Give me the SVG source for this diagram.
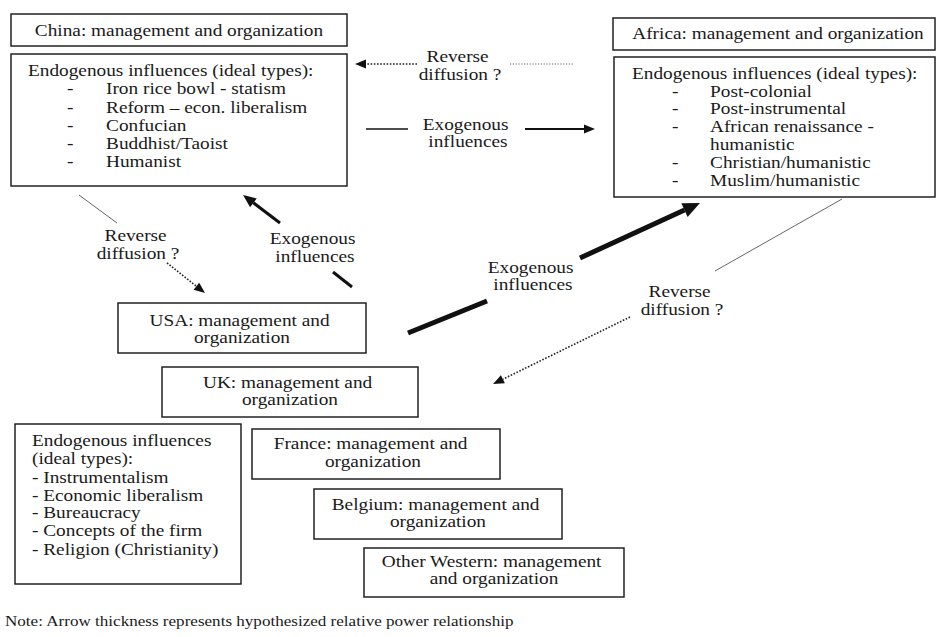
<svg xmlns="http://www.w3.org/2000/svg" width="937" height="637" viewBox="0 0 937 637">
  <style>
    .box { fill: #ffffff; stroke: #222222; stroke-width: 1.5; }
    .t { font-family: "Liberation Serif", "Times New Roman", serif; font-size: 16.5px; fill: #1a1a1a; }
    .c { text-anchor: middle; }
    .note { font-family: "Liberation Serif", "Times New Roman", serif; font-size: 14.6px; fill: #1a1a1a; }
    .thin { stroke: #555555; stroke-width: 0.9; fill: none; }
    .dot { stroke: #222222; stroke-width: 1.6; stroke-dasharray: 1.6 1.6; fill: none; }
    .dot-light { stroke: #666666; stroke-width: 1; stroke-dasharray: 1.2 1.6; fill: none; }
    .solid { stroke: #111111; fill: none; stroke-linecap: butt; }
  </style>
  <defs>
    <marker id="ah-s" markerUnits="userSpaceOnUse" viewBox="0 -5 11 10" markerWidth="11" markerHeight="10" refX="0" refY="0" orient="auto" overflow="visible">
      <path d="M0,-4.5 L11,0 L0,4.5 Z" fill="#111111"/>
    </marker>
    <marker id="ah-m" markerUnits="userSpaceOnUse" viewBox="0 -6 13 12" markerWidth="13" markerHeight="12" refX="0" refY="0" orient="auto" overflow="visible">
      <path d="M0,-5.5 L13,0 L0,5.5 Z" fill="#111111"/>
    </marker>
    <marker id="ah-l" markerUnits="userSpaceOnUse" viewBox="0 -8 17 16" markerWidth="17" markerHeight="16" refX="0" refY="0" orient="auto" overflow="visible">
      <path d="M0,-7.5 L17,0 L0,7.5 Z" fill="#111111"/>
    </marker>
  </defs>

  <rect width="937" height="637" fill="#ffffff"/>

  <!-- China -->
  <g id="china-title">
    <rect class="box" x="11" y="14" width="336" height="32"/>
    <text class="t c" transform="translate(179 36) scale(1.17 1)">China: management and organization</text>
  </g>
  <g id="china-endogenous">
    <rect class="box" x="11" y="54" width="336" height="132"/>
    <text class="t" transform="translate(28 76) scale(1.17 1)">
      <tspan x="0" y="0">Endogenous influences (ideal types):</tspan>
      <tspan x="33.3" y="18.3">-</tspan><tspan x="66.7" y="18.3">Iron rice bowl - statism</tspan>
      <tspan x="33.3" y="36.6">-</tspan><tspan x="66.7" y="36.6">Reform – econ. liberalism</tspan>
      <tspan x="33.3" y="54.9">-</tspan><tspan x="66.7" y="54.9">Confucian</tspan>
      <tspan x="33.3" y="73.2">-</tspan><tspan x="66.7" y="73.2">Buddhist/Taoist</tspan>
      <tspan x="33.3" y="91.5">-</tspan><tspan x="66.7" y="91.5">Humanist</tspan>
    </text>
  </g>

  <!-- Africa -->
  <g id="africa-title">
    <rect class="box" x="613" y="18" width="322" height="32"/>
    <text class="t c" transform="translate(778 39) scale(1.17 1)">Africa: management and organization</text>
  </g>
  <g id="africa-endogenous">
    <rect class="box" x="614" y="57" width="321" height="140"/>
    <text class="t" transform="translate(632 79) scale(1.17 1)">
      <tspan x="0" y="0">Endogenous influences (ideal types):</tspan>
      <tspan x="34.2" y="18">-</tspan><tspan x="66.7" y="18">Post-colonial</tspan>
      <tspan x="34.2" y="35.5">-</tspan><tspan x="66.7" y="35.5">Post-instrumental</tspan>
      <tspan x="34.2" y="53">-</tspan><tspan x="66.7" y="53">African renaissance -</tspan>
      <tspan x="66.7" y="71">humanistic</tspan>
      <tspan x="34.2" y="89">-</tspan><tspan x="66.7" y="89">Christian/humanistic</tspan>
      <tspan x="34.2" y="107">-</tspan><tspan x="66.7" y="107">Muslim/humanistic</tspan>
    </text>
  </g>

  <!-- Western countries -->
  <g id="usa">
    <rect class="box" x="118" y="303" width="248" height="50"/>
    <text class="t c" transform="translate(242 326) scale(1.17 1)">
      <tspan x="0" y="0">USA: management and</tspan>
      <tspan x="0" y="17">organization</tspan>
    </text>
  </g>
  <g id="uk">
    <rect class="box" x="162" y="367" width="256" height="50"/>
    <text class="t c" transform="translate(290 388) scale(1.17 1)">
      <tspan x="0" y="0">UK: management and</tspan>
      <tspan x="0" y="17">organization</tspan>
    </text>
  </g>
  <g id="western-endogenous">
    <rect class="box" x="15" y="424" width="226" height="160"/>
    <text class="t" transform="translate(32 446) scale(1.17 1)">
      <tspan x="0" y="0">Endogenous influences</tspan>
      <tspan x="0" y="18.5">(ideal types):</tspan>
      <tspan x="0" y="37">- Instrumentalism</tspan>
      <tspan x="0" y="55">- Economic liberalism</tspan>
      <tspan x="0" y="72.5">- Bureaucracy</tspan>
      <tspan x="0" y="90.5">- Concepts of the firm</tspan>
      <tspan x="0" y="109">- Religion (Christianity)</tspan>
    </text>
  </g>
  <g id="france">
    <rect class="box" x="252" y="429" width="248" height="50"/>
    <text class="t c" transform="translate(373 449) scale(1.17 1)">
      <tspan x="0" y="0">France: management and</tspan>
      <tspan x="0" y="18">organization</tspan>
    </text>
  </g>
  <g id="belgium">
    <rect class="box" x="314" y="489" width="248" height="50"/>
    <text class="t c" transform="translate(438 510) scale(1.17 1)">
      <tspan x="0" y="0">Belgium: management and</tspan>
      <tspan x="0" y="17">organization</tspan>
    </text>
  </g>
  <g id="other-western">
    <rect class="box" x="364" y="548" width="260" height="49"/>
    <text class="t c" transform="translate(494 567) scale(1.17 1)">
      <tspan x="0" y="0">Other Western: management</tspan>
      <tspan x="0" y="17">and organization</tspan>
    </text>
  </g>

  <!-- Connectors and their labels -->
  <g id="connectors">
    <!-- Africa -> China reverse diffusion -->
    <line class="dot" x1="417" y1="64" x2="366" y2="64" marker-end="url(#ah-s)"/>
    <line class="dot-light" x1="510" y1="64" x2="573" y2="64"/>
    <text class="t c" transform="translate(460 62) scale(1.17 1)">
      <tspan x="0" y="0">Reverse</tspan>
      <tspan x="0" y="18">diffusion ?</tspan>
    </text>

    <!-- China -> Africa exogenous influences -->
    <line class="solid" stroke-width="1.6" x1="366" y1="129" x2="408" y2="129"/>
    <line class="solid" stroke-width="2" x1="525" y1="129" x2="584" y2="129" marker-end="url(#ah-s)"/>
    <text class="t c" transform="translate(468 130) scale(1.17 1)">
      <tspan x="0" y="0">Exogenous</tspan>
      <tspan x="0" y="17">influences</tspan>
    </text>

    <!-- China -> USA reverse diffusion -->
    <line class="thin" x1="79" y1="195" x2="117" y2="223"/>
    <line class="dot" x1="167" y1="263" x2="196.4" y2="286.2" marker-end="url(#ah-s)"/>
    <text class="t c" transform="translate(138 241) scale(1.17 1)">
      <tspan x="0" y="0">Reverse</tspan>
      <tspan x="0" y="18">diffusion ?</tspan>
    </text>

    <!-- USA -> China exogenous influences -->
    <line class="solid" stroke-width="3" x1="352" y1="287" x2="333" y2="272"/>
    <line class="solid" stroke-width="3" x1="280" y1="223" x2="253.4" y2="202.8" marker-end="url(#ah-m)"/>
    <text class="t c" transform="translate(315 244) scale(1.17 1)">
      <tspan x="0" y="0">Exogenous</tspan>
      <tspan x="0" y="18">influences</tspan>
    </text>

    <!-- USA -> Africa exogenous influences -->
    <line class="solid" stroke-width="5" x1="408" y1="333" x2="487" y2="301"/>
    <line class="solid" stroke-width="5" x1="580" y1="258" x2="684.5" y2="210.1" marker-end="url(#ah-l)"/>
    <text class="t c" transform="translate(533 273) scale(1.17 1)">
      <tspan x="0" y="0">Exogenous</tspan>
      <tspan x="0" y="17">influences</tspan>
    </text>

    <!-- Africa -> UK reverse diffusion -->
    <line class="thin" x1="842" y1="199" x2="715" y2="271"/>
    <line class="dot" x1="630" y1="317" x2="502.9" y2="379.2" marker-end="url(#ah-s)"/>
    <text class="t c" transform="translate(682 297) scale(1.17 1)">
      <tspan x="0" y="0">Reverse</tspan>
      <tspan x="0" y="18">diffusion ?</tspan>
    </text>
  </g>

  <text class="note" transform="translate(5 626) scale(1.17 1)">Note: Arrow thickness represents hypothesized relative power relationship</text>
</svg>
